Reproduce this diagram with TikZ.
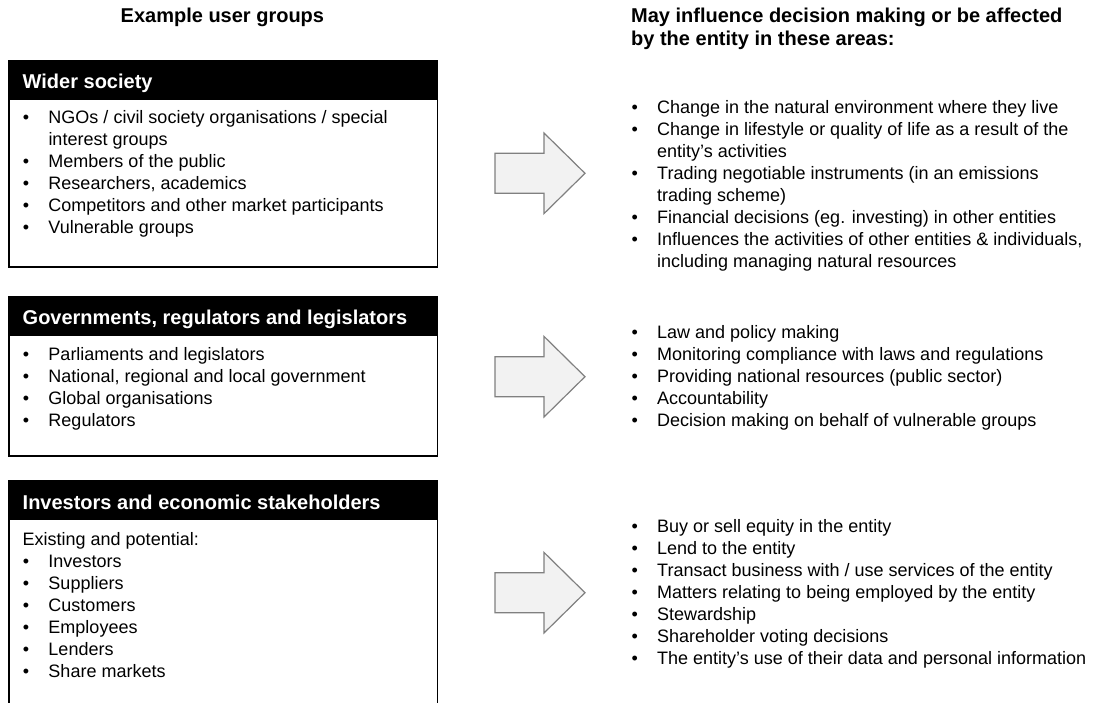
\documentclass[tikz,border=0pt]{standalone}
\usepackage{fontspec}
\setmainfont{Liberation Sans}
\usetikzlibrary{backgrounds}
\pgfdeclarelayer{edgelayer}
\pgfdeclarelayer{nodelayer}
\pgfsetlayers{edgelayer,nodelayer,main}
\definecolor{arrowfill}{HTML}{F2F2F2}
\definecolor{arrowline}{HTML}{808080}
\tikzset{x=1pt,y=-1pt}
\newcommand{\bul}{\makebox[25.5pt][l]{\textbullet}}
\tikzstyle{txt}=[inner sep=0pt,anchor=base west,font=\fontsize{18}{22}\selectfont]
\tikzstyle{head}=[inner sep=0pt,anchor=base west,text=white,font=\fontsize{20}{24}\selectfont\bfseries]
\tikzstyle{heading}=[inner sep=0pt,anchor=base west,font=\fontsize{20}{24}\selectfont\bfseries]
\tikzstyle{frame}=[draw=black,line width=1.3pt,fill=white]
\tikzstyle{bar}=[fill=black]
\tikzstyle{blockarrow}=[draw=arrowline,fill=arrowfill,line width=1.2pt,line join=miter]

\begin{document}
\begin{tikzpicture}
	\useasboundingbox (0,0) rectangle (1095,702);
	\begin{pgfonlayer}{edgelayer}
		\draw[style=frame] (9,61) rectangle (437.7,267);
		\fill[style=bar] (9,61) rectangle (437.7,100);
		\draw[style=frame] (9,296.7) rectangle (437.7,456);
		\fill[style=bar] (9,296.7) rectangle (437.7,336);
		\draw[style=frame] (9,480.7) rectangle (437.7,712);
		\fill[style=bar] (9,480.7) rectangle (437.7,520);
		% arrows
		\draw[style=blockarrow] (495,153.3) -- (544,153.3) -- (544,133) -- (585,173.3) -- (544,213.6) -- (544,193.3) -- (495,193.3) -- cycle;
		\draw[style=blockarrow] (495,356.7) -- (544,356.7) -- (544,336.4) -- (585,376.7) -- (544,417) -- (544,396.7) -- (495,396.7) -- cycle;
		\draw[style=blockarrow] (495,572.7) -- (544,572.7) -- (544,552.4) -- (585,592.7) -- (544,633) -- (544,612.7) -- (495,612.7) -- cycle;
	\end{pgfonlayer}
	\begin{pgfonlayer}{nodelayer}
		\node [style=heading] (0) at (120.5, 22.7) {Example user groups};
		\node [style=heading] (1) at (631, 22.7) {May influence decision making or be affected};
		\node [style=heading] (2) at (631, 45.5) {by the entity in these areas:};

		\node [style=head] (3) at (22.5, 88.5) {Wider society};
		\node [style=txt] (4) at (22.8, 123.5) {\bul NGOs / civil society organisations / special};
		\node [style=txt] (5) at (48.3, 145.5) {interest groups};
		\node [style=txt] (6) at (22.8, 167.5) {\bul Members of the public};
		\node [style=txt] (7) at (22.8, 189.5) {\bul Researchers, academics};
		\node [style=txt] (8) at (22.8, 211.5) {\bul Competitors and other market participants};
		\node [style=txt] (9) at (22.8, 233.5) {\bul Vulnerable groups};

		\node [style=head] (10) at (22.5, 324) {Governments, regulators and legislators};
		\node [style=txt] (11) at (22.8, 360) {\bul Parliaments and legislators};
		\node [style=txt] (12) at (22.8, 382) {\bul National, regional and local government};
		\node [style=txt] (13) at (22.8, 404) {\bul Global organisations};
		\node [style=txt] (14) at (22.8, 426) {\bul Regulators};

		\node [style=head] (15) at (22.5, 509) {Investors and economic stakeholders};
		\node [style=txt] (16) at (22.5, 545) {Existing and potential:};
		\node [style=txt] (17) at (22.8, 567) {\bul Investors};
		\node [style=txt] (18) at (22.8, 589) {\bul Suppliers};
		\node [style=txt] (19) at (22.8, 611) {\bul Customers};
		\node [style=txt] (20) at (22.8, 633) {\bul Employees};
		\node [style=txt] (21) at (22.8, 655) {\bul Lenders};
		\node [style=txt] (22) at (22.8, 677) {\bul Share markets};

		\node [style=txt] (23) at (631.5, 113.3) {\bul Change in the natural environment where they live};
		\node [style=txt] (24) at (631.5, 135.3) {\bul Change in lifestyle or quality of life as a result of the};
		\node [style=txt] (25) at (657, 157.3) {entity’s activities};
		\node [style=txt] (26) at (631.5, 179.3) {\bul Trading negotiable instruments (in an emissions};
		\node [style=txt] (27) at (657, 201.3) {trading scheme)};
		\node [style=txt] (28) at (631.5, 223.3) {\bul Financial decisions (eg. investing) in other entities};
		\node [style=txt] (29) at (631.5, 245.3) {\bul Influences the activities of other entities \& individuals,};
		\node [style=txt] (30) at (657, 267.3) {including managing natural resources};

		\node [style=txt] (31) at (631.5, 338.3) {\bul Law and policy making};
		\node [style=txt] (32) at (631.5, 360.3) {\bul Monitoring compliance with laws and regulations};
		\node [style=txt] (33) at (631.5, 382.3) {\bul Providing national resources (public sector)};
		\node [style=txt] (34) at (631.5, 404.3) {\bul Accountability};
		\node [style=txt] (35) at (631.5, 426.3) {\bul Decision making on behalf of vulnerable groups};

		\node [style=txt] (36) at (631.5, 532.3) {\bul Buy or sell equity in the entity};
		\node [style=txt] (37) at (631.5, 554.3) {\bul Lend to the entity};
		\node [style=txt] (38) at (631.5, 576.3) {\bul Transact business with / use services of the entity};
		\node [style=txt] (39) at (631.5, 598.3) {\bul Matters relating to being employed by the entity};
		\node [style=txt] (40) at (631.5, 620.3) {\bul Stewardship};
		\node [style=txt] (41) at (631.5, 642.3) {\bul Shareholder voting decisions};
		\node [style=txt] (42) at (631.5, 664.3) {\bul The entity’s use of their data and personal information};
	\end{pgfonlayer}
\end{tikzpicture}
\end{document}
